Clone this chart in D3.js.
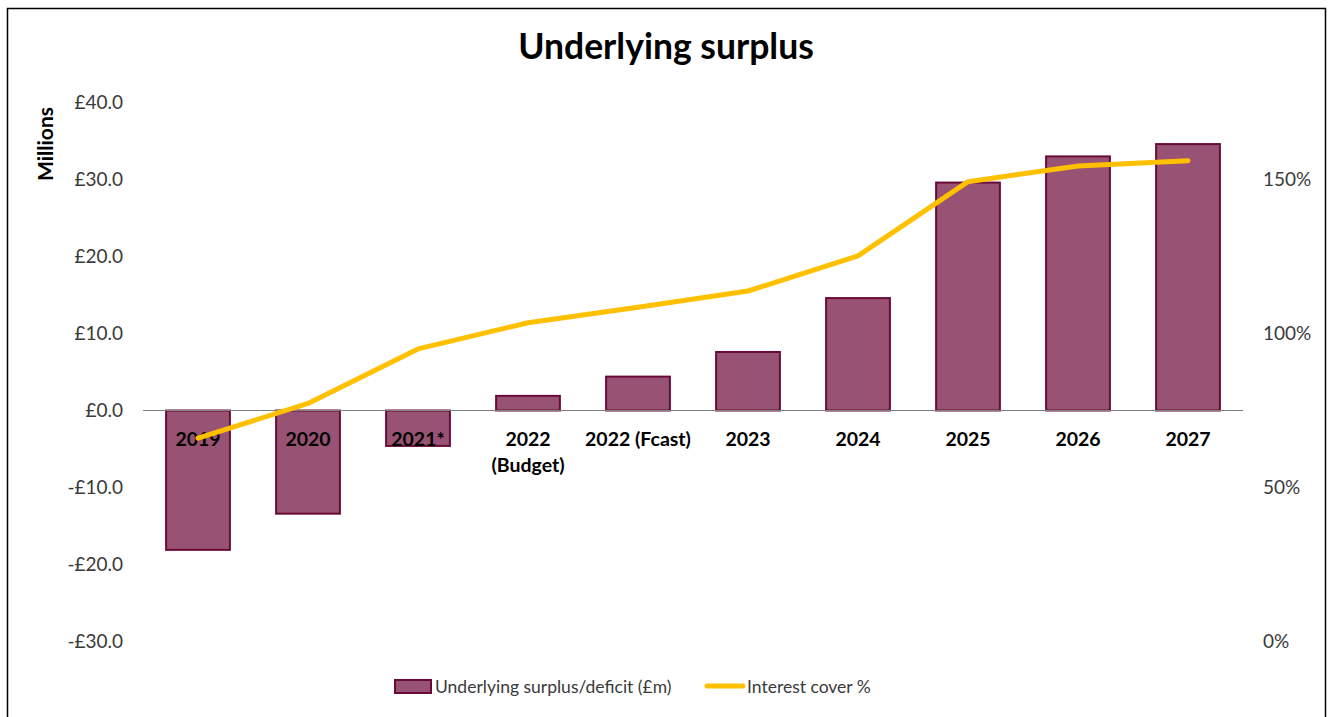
<!DOCTYPE html>
<html>
<head>
<meta charset="utf-8">
<script src="https://cdn.jsdelivr.net/npm/d3@7"></script>
<style>
  html, body { margin: 0; padding: 0; background: #fff; }
  svg { display: block; font-family: Lato, "Open Sans", sans-serif; }
</style>
</head>
<body>
<svg id="chart" width="1330" height="717"></svg>
<script>
// Financial years shown along the bottom
const categories = ["2019", "2020", "2021*", "2022\n(Budget)", "2022 (Fcast)", "2023", "2024", "2025", "2026", "2027"];
// Underlying surplus / deficit, £ millions
const surplus = [-18.1, -13.4, -4.6, 1.9, 4.4, 7.6, 14.6, 29.6, 33.0, 34.6];
// Interest cover, percent
const interestCover = [66.0, 77.3, 95.0, 103.5, 108.5, 113.8, 125.2, 149.3, 154.4, 156.1];
// Axis ticks
const leftTicks = [-30, -20, -10, 0, 10, 20, 30, 40];
const rightTicks = [0, 50, 100, 150];

const barFill = "#985273";
const barStroke = "#6a0a38";
const lineColor = "#FFC000";
const textColor = "#3a3a3a";

const svg = d3.select("#chart");

// chart frame
svg.append("path")
  .attr("d", "M7.5,717 V8.5 H1325.5 V717")
  .attr("fill", "none").attr("stroke", "#000").attr("stroke-width", 1.5);

const plot = { left: 143, right: 1243, top: 102.5, bottom: 641.5 };

const x = d3.scaleBand().domain(categories).range([plot.left, plot.right]).paddingInner(0.42).paddingOuter(0.21);
const y = d3.scaleLinear().domain([-30, 40]).range([plot.bottom, plot.top]);
const y2 = d3.scaleLinear().domain([0, 175]).range([plot.bottom, plot.top]);

// title
svg.append("text")
  .attr("x", 666).attr("y", 59)
  .attr("text-anchor", "middle")
  .attr("font-size", 35.5).attr("font-weight", 700).attr("fill", "#000")
  .text("Underlying surplus");

// left axis title
svg.append("text")
  .attr("transform", "translate(53,144) rotate(-90)")
  .attr("text-anchor", "middle")
  .attr("font-size", 21).attr("font-weight", 700).attr("fill", "#000")
  .text("Millions");

// left axis
const leftAxis = svg.append("g")
  .attr("transform", `translate(${plot.left - 20},0)`)
  .call(d3.axisLeft(y).tickValues(leftTicks).tickSize(0).tickPadding(0)
    .tickFormat(d => (d < 0 ? "-£" : "£") + Math.abs(d).toFixed(1)));
leftAxis.select(".domain").remove();
leftAxis.selectAll("text").attr("font-size", 19).attr("fill", textColor).attr("font-family", "Lato, sans-serif");

// right axis
const rightAxis = svg.append("g")
  .attr("transform", `translate(${plot.right + 20},0)`)
  .call(d3.axisRight(y2).tickValues(rightTicks).tickSize(0).tickPadding(0)
    .tickFormat(d => d + "%"));
rightAxis.select(".domain").remove();
rightAxis.selectAll("text").attr("font-size", 19).attr("fill", textColor).attr("font-family", "Lato, sans-serif");

// bars
svg.append("g").selectAll("rect")
  .data(surplus)
  .join("rect")
  .attr("x", (d, i) => x(categories[i]))
  .attr("width", x.bandwidth())
  .attr("y", d => y(Math.max(0, d)))
  .attr("height", d => Math.abs(y(d) - y(0)))
  .attr("fill", barFill)
  .attr("stroke", barStroke)
  .attr("stroke-width", 2);

// zero baseline
svg.append("line")
  .attr("x1", plot.left).attr("x2", plot.right)
  .attr("y1", y(0)).attr("y2", y(0))
  .attr("stroke", "#7f7f7f").attr("stroke-width", 1.2);

// category labels
const catLabels = svg.append("g").selectAll("text")
  .data(categories)
  .join("text")
  .attr("x", d => x(d) + x.bandwidth() / 2)
  .attr("y", y(0) + 35)
  .attr("text-anchor", "middle")
  .attr("font-size", 19.5).attr("font-weight", 700).attr("fill", "#000");
catLabels.each(function(d) {
  const parts = d.split("\n");
  const t = d3.select(this);
  parts.forEach((p, k) => {
    t.append("tspan").attr("x", x(d) + x.bandwidth() / 2).attr("dy", k === 0 ? 0 : 26).text(p);
  });
});

// interest cover line
const line = d3.line()
  .x((d, i) => x(categories[i]) + x.bandwidth() / 2)
  .y(d => y2(d));
svg.append("path")
  .datum(interestCover)
  .attr("d", line)
  .attr("fill", "none")
  .attr("stroke", lineColor)
  .attr("stroke-width", 5)
  .attr("stroke-linecap", "round")
  .attr("stroke-linejoin", "round");

// legend
const legend = svg.append("g").attr("font-size", 17.5).attr("fill", textColor);
legend.append("rect")
  .attr("x", 395).attr("y", 680).attr("width", 36).attr("height", 13)
  .attr("fill", barFill).attr("stroke", barStroke).attr("stroke-width", 2);
legend.append("text").attr("x", 435).attr("y", 693).attr("fill", textColor).text("Underlying surplus/deficit (£m)");
legend.append("line")
  .attr("x1", 707).attr("x2", 743).attr("y1", 686).attr("y2", 686)
  .attr("stroke", lineColor).attr("stroke-width", 5).attr("stroke-linecap", "round");
legend.append("text").attr("x", 747).attr("y", 693).attr("fill", textColor).text("Interest cover %");
</script>
</body>
</html>
